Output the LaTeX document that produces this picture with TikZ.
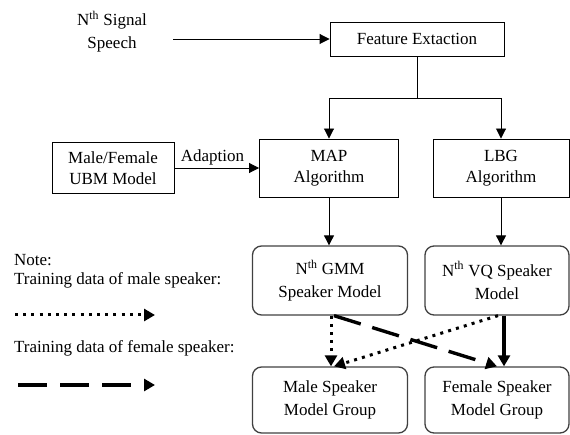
\documentclass[tikz,border=0pt]{standalone}
\usepackage{fontspec}
\setmainfont{Liberation Serif}
\usetikzlibrary{arrows.meta}
\begin{document}
\begin{tikzpicture}[x=1pt,y=-1pt,
  txt/.style={font=\fontsize{17}{21}\selectfont, inner sep=0pt},
  sqbox/.style={draw=black, line width=0.9pt, align=center, font=\fontsize{17}{21}\selectfont, inner sep=0pt},
  rbox/.style={draw=black!75, line width=1.3pt, rounded corners=9pt, align=center, font=\fontsize{17}{23}\selectfont, inner sep=0pt},
  arr/.style={line width=0.9pt, -{Triangle[length=10pt,width=10pt]}},
  plain/.style={line width=0.9pt},
  thickarr/.style={line width=3.2pt, -{Triangle[length=11pt,width=12pt]}},
  dotarr/.style={line width=3pt, dash pattern=on 3pt off 5.2pt, -{Triangle[length=11pt,width=12pt]}},
  dasharr/.style={line width=3.4pt, dash pattern=on 28pt off 12pt, -{Triangle[length=11pt,width=12pt]}},
]
\useasboundingbox (0,0) rectangle (570,435);

% nodes
\node[txt, align=center, font=\fontsize{17}{23}\selectfont] (sig) at (112,31.5) {N\textsuperscript{th} Signal\\Speech};
\node[sqbox, minimum width=174pt, minimum height=34pt] (feat) at (417,39) {Feature Extaction};
\node[sqbox, minimum width=139pt, minimum height=58pt] (map) at (329,168) {MAP\\Algorithm};
\node[sqbox, minimum width=136pt, minimum height=58pt] (lbg) at (501,168) {LBG\\Algorithm};
\node[sqbox, minimum width=122pt, minimum height=51pt] (ubm) at (113,168) {Male/Female\\UBM Model};
\node[rbox, minimum width=155pt, minimum height=69pt] (gmm) at (330,280.5) {N\textsuperscript{th} GMM\\Speaker Model};
\node[rbox, minimum width=144pt, minimum height=69pt] (vq) at (497,280.5) {N\textsuperscript{th} VQ Speaker\\Model};
\node[rbox, minimum width=155pt, minimum height=66pt] (male) at (330,400) {Male Speaker\\Model Group};
\node[rbox, minimum width=144pt, minimum height=66pt] (female) at (497,400) {Female Speaker\\Model Group};
\node[txt, anchor=west, align=left, font=\fontsize{17}{19}\selectfont] (note) at (14,271.5) {Note:\\Training data of male speaker:};
\node[txt, anchor=west] (fem) at (14,348) {Training data of female speaker:};

% coordinates
\coordinate (sigend) at (173,39);
\coordinate (split) at (417,98);
\coordinate (d1) at (15,315);
\coordinate (d2) at (155,315);
\coordinate (e1) at (18,385);
\coordinate (e2) at (155,385);

% connectors
\draw[arr] (sigend) -- (feat.west);
\draw[plain] (feat.south) -- (split);
\draw[arr] (split) -| (map.north);
\draw[arr] (split) -| (lbg.north);
\draw[arr] (ubm.east) -- node[above, pos=0.45, txt, inner sep=2pt] (adap) {Adaption} (map.west);
\draw[arr] (map.south) -- (map.south |- gmm.north);
\draw[arr] (lbg.south) -- (lbg.south |- vq.north);
\draw[dotarr] ([xshift=1pt]gmm.south) -- ([xshift=1pt]male.north);
\draw[dasharr] ([xshift=4pt]gmm.south) -- (female.north);
\draw[dotarr] ([xshift=1pt]vq.south) -- ([xshift=4pt]male.north);
\draw[thickarr] ([xshift=7pt]vq.south) -- ([xshift=7pt]female.north);

% legend
\draw[dotarr] (d1) -- (d2);
\draw[dasharr, dash pattern=on 29pt off 13pt] (e1) -- (e2);
\end{tikzpicture}
\end{document}
